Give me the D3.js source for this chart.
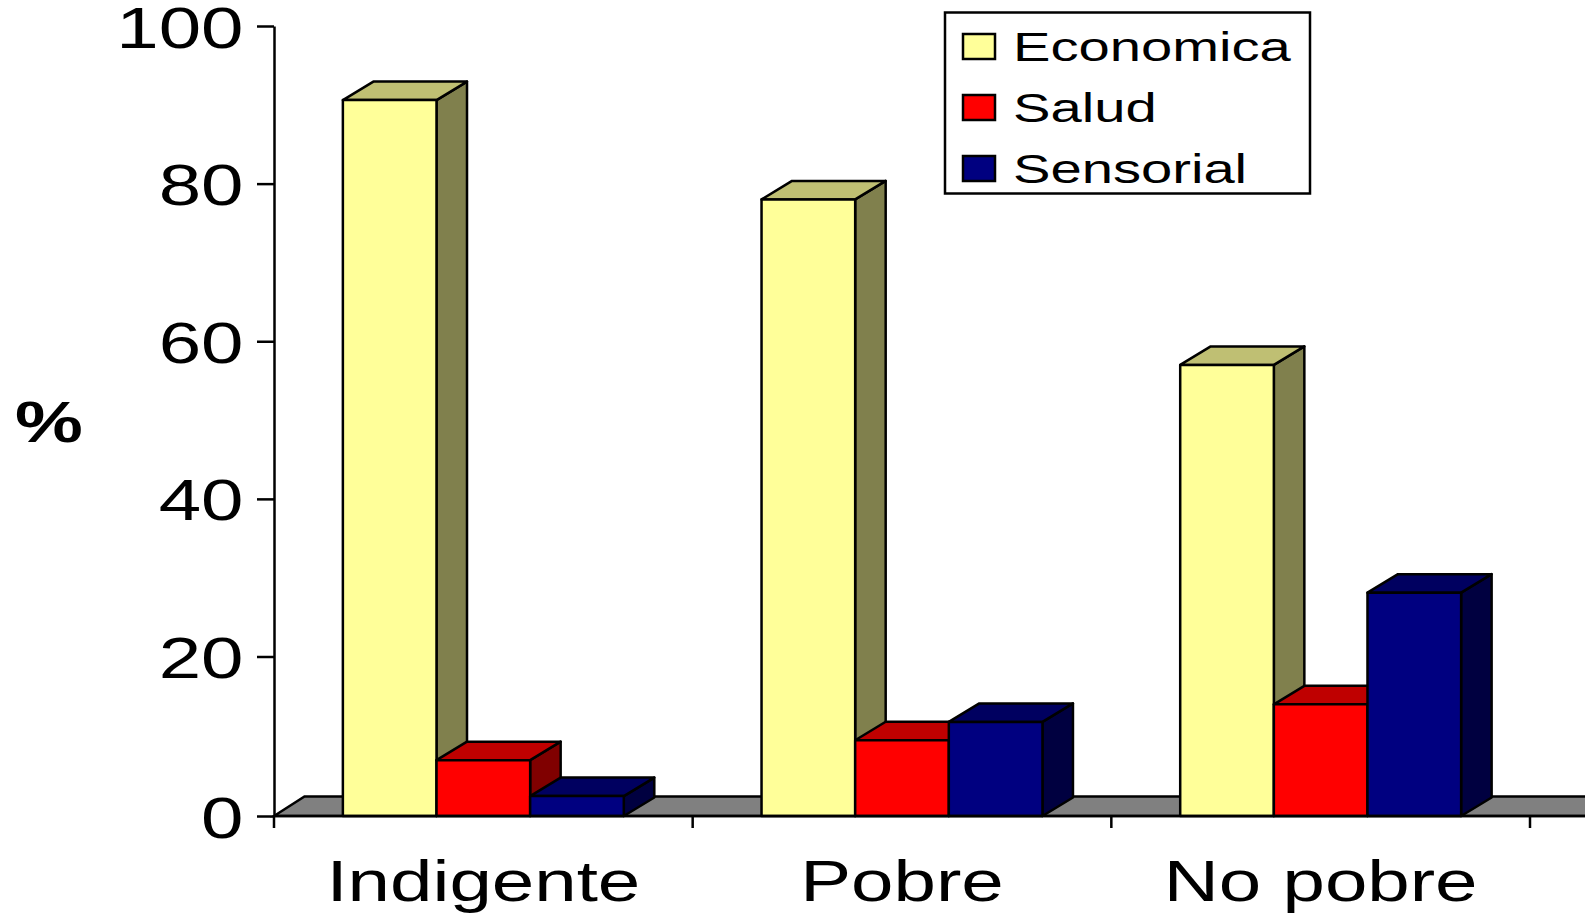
<!DOCTYPE html>
<html>
<head>
<meta charset="utf-8">
<script src="https://cdn.jsdelivr.net/npm/d3@7/dist/d3.min.js"></script>
<style>
html,body{margin:0;padding:0;background:#fff;overflow:hidden}
svg{display:block}
text{font-family:"Liberation Sans",Arial,sans-serif;fill:#000}
</style>
</head>
<body>
<svg id="c" width="1585" height="913"></svg>
<script>
const categories = ["Indigente", "Pobre", "No pobre"];
const seriesNames = ["Economica", "Salud", "Sensorial"];
const economica = [90.6, 78, 57];
const salud = [7, 9.5, 14];
const sensorial = [2.5, 11.8, 28.1];
const yTicks = [0, 20, 40, 60, 80, 100];
const yAxisTitle = "%";

const seriesValues = [economica, salud, sensorial];
const W = 1585, H = 913;
const x0 = 274, x1 = 1530, yBase = 816, yTwenty = 656.5, yTop = 26;
const depthX = 30.5, depthY = 18.5, stretch = 1.315, sw = 2.5;
const faces = [
  {front:"#FFFF99", top:"#BFBF73", side:"#80804D"},
  {front:"#FF0000", top:"#BF0000", side:"#800000"},
  {front:"#000080", top:"#000060", side:"#000040"}
];

const svg = d3.select("#c");
const y = d3.scaleLinear().domain([0, 20, 100]).range([yBase, yTwenty, yTop]);
const x = d3.scaleBand().domain(categories).range([x0, x1]).paddingInner(0).paddingOuter(0);
const inner = d3.scaleBand().domain(seriesNames)
  .range([x.step() * 0.1645, x.step() * 0.8355]).paddingInner(0).paddingOuter(0);

// floor
svg.append("path")
  .attr("d", `M${x0},${yBase}L${x0 + depthX},${yBase - 19.5}L${W + 5},${yBase - 19.5}L${W + 5},${yBase}Z`)
  .attr("fill", "#808080").attr("stroke", "#000").attr("stroke-width", sw);

// bars
const poly = p => "M" + p.map(q => q.join(",")).join("L") + "Z";
seriesNames.forEach((name, s) => {
  const g = svg.append("g");
  categories.forEach((cat, i) => {
    const l = x(cat) + inner(name), r = l + inner.bandwidth();
    const t = y(seriesValues[s][i]), b = y(0);
    g.append("path")
      .attr("d", poly([[r, t], [r + depthX, t - depthY], [r + depthX, b - depthY], [r, b]]))
      .attr("fill", faces[s].side);
    g.append("path")
      .attr("d", poly([[l, t], [l + depthX, t - depthY], [r + depthX, t - depthY], [r, t]]))
      .attr("fill", faces[s].top);
    g.append("path")
      .attr("d", poly([[l, t], [r, t], [r, b], [l, b]]))
      .attr("fill", faces[s].front);
  });
  g.selectAll("path").attr("stroke", "#000").attr("stroke-width", sw).attr("stroke-linejoin", "round");
});

// y axis
const yAxis = svg.append("g").attr("transform", `translate(${x0},0)`)
  .call(d3.axisLeft(y).tickValues(yTicks).tickSize(17).tickSizeOuter(0).tickPadding(0));
yAxis.select(".domain").attr("stroke", "#000").attr("stroke-width", sw);
yAxis.selectAll("line").attr("stroke", "#000").attr("stroke-width", sw);
yAxis.selectAll("text")
  .attr("x", 0).attr("dy", 0).attr("text-anchor", "end")
  .attr("font-size", 58).attr("font-family", '"Liberation Sans",Arial,sans-serif')
  .attr("transform", `translate(-30.5,21) scale(${stretch},1)`);

// x axis
svg.append("line").attr("x1", x0).attr("x2", W + 5).attr("y1", yBase).attr("y2", yBase)
  .attr("stroke", "#000").attr("stroke-width", sw);
svg.selectAll(".xt").data([...categories.map(c => x(c)), x1]).enter().append("line")
  .attr("x1", d => d).attr("x2", d => d).attr("y1", yBase).attr("y2", yBase + 12)
  .attr("stroke", "#000").attr("stroke-width", sw);
svg.selectAll(".xl").data(categories).enter().append("text")
  .attr("text-anchor", "middle").attr("font-size", 58)
  .attr("transform", d => `translate(${x(d) + x.bandwidth() / 2},901) scale(${stretch},1)`)
  .text(d => d);

// y title
svg.append("text").attr("text-anchor", "middle").attr("font-size", 58).attr("font-weight", "bold")
  .attr("transform", `translate(49,442) scale(${stretch},1)`).text(yAxisTitle);

// legend
svg.append("rect").attr("x", 945).attr("y", 12.5).attr("width", 365).attr("height", 181)
  .attr("fill", "#fff").attr("stroke", "#000").attr("stroke-width", sw);
const legendY = d3.scalePoint().domain(seriesNames).range([46, 168]);
seriesNames.forEach((name, s) => {
  svg.append("rect").attr("x", 963).attr("y", legendY(name) - 12).attr("width", 32).attr("height", 25)
    .attr("fill", faces[s].front).attr("stroke", "#000").attr("stroke-width", sw);
  svg.append("text").attr("font-size", 41)
    .attr("transform", `translate(1013,${legendY(name) + 15}) scale(1.37,1)`).text(name);
});
</script>
</body>
</html>
